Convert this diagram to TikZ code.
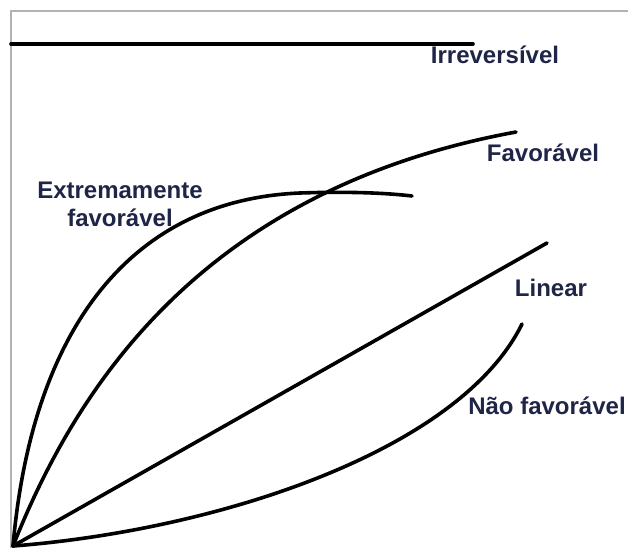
\documentclass[tikz,border=0pt]{standalone}
\usepackage{fontspec}
\setmainfont{Liberation Sans}
\definecolor{labelnavy}{RGB}{31,37,71}
\begin{document}
\begin{tikzpicture}[x=1pt, y=-1pt,
    curve/.style={line width=3.6pt, line cap=round},
    curvelabel/.style={text=labelnavy, font=\bfseries\fontsize{24}{28}\selectfont, inner sep=0pt, align=center}]
    \useasboundingbox (0, 0) rectangle (628, 548);
    % frame
    \draw [gray!60, line width=1.5pt] (628, 11) -- (11, 11) -- (11, 548);
    \coordinate (origin) at (13, 546);
    \foreach \name/\x/\y in {irr/473/44, ext/412/196, fav/516/132, lin/547/243, nfav/522/324} {
        \coordinate (\name) at (\x, \y);
        }
    % curves
    \draw [curve] (11, 44) -- (irr);
    \draw [curve] (origin) .. controls (32, 330) and (130, 200) .. (300, 193)
                           .. controls (360, 191) and (395, 194) .. (ext);
    \draw [curve] (origin) .. controls (75, 390) and (200, 190) .. (fav);
    \draw [curve] (origin) -- (lin);
    \draw [curve] (origin) .. controls (220, 530) and (460, 450) .. (nfav);
    % labels
    \node [curvelabel] (irrlabel)  at (495, 55)  {Irreversível};
    \node [curvelabel] (extlabel)  at (120, 204) {Extremamente\\favorável};
    \node [curvelabel] (favlabel)  at (543, 153) {Favorável};
    \node [curvelabel] (linlabel)  at (551, 288) {Linear};
    \node [curvelabel] (nfavlabel) at (547, 406) {Não favorável};
\end{tikzpicture}
\end{document}
